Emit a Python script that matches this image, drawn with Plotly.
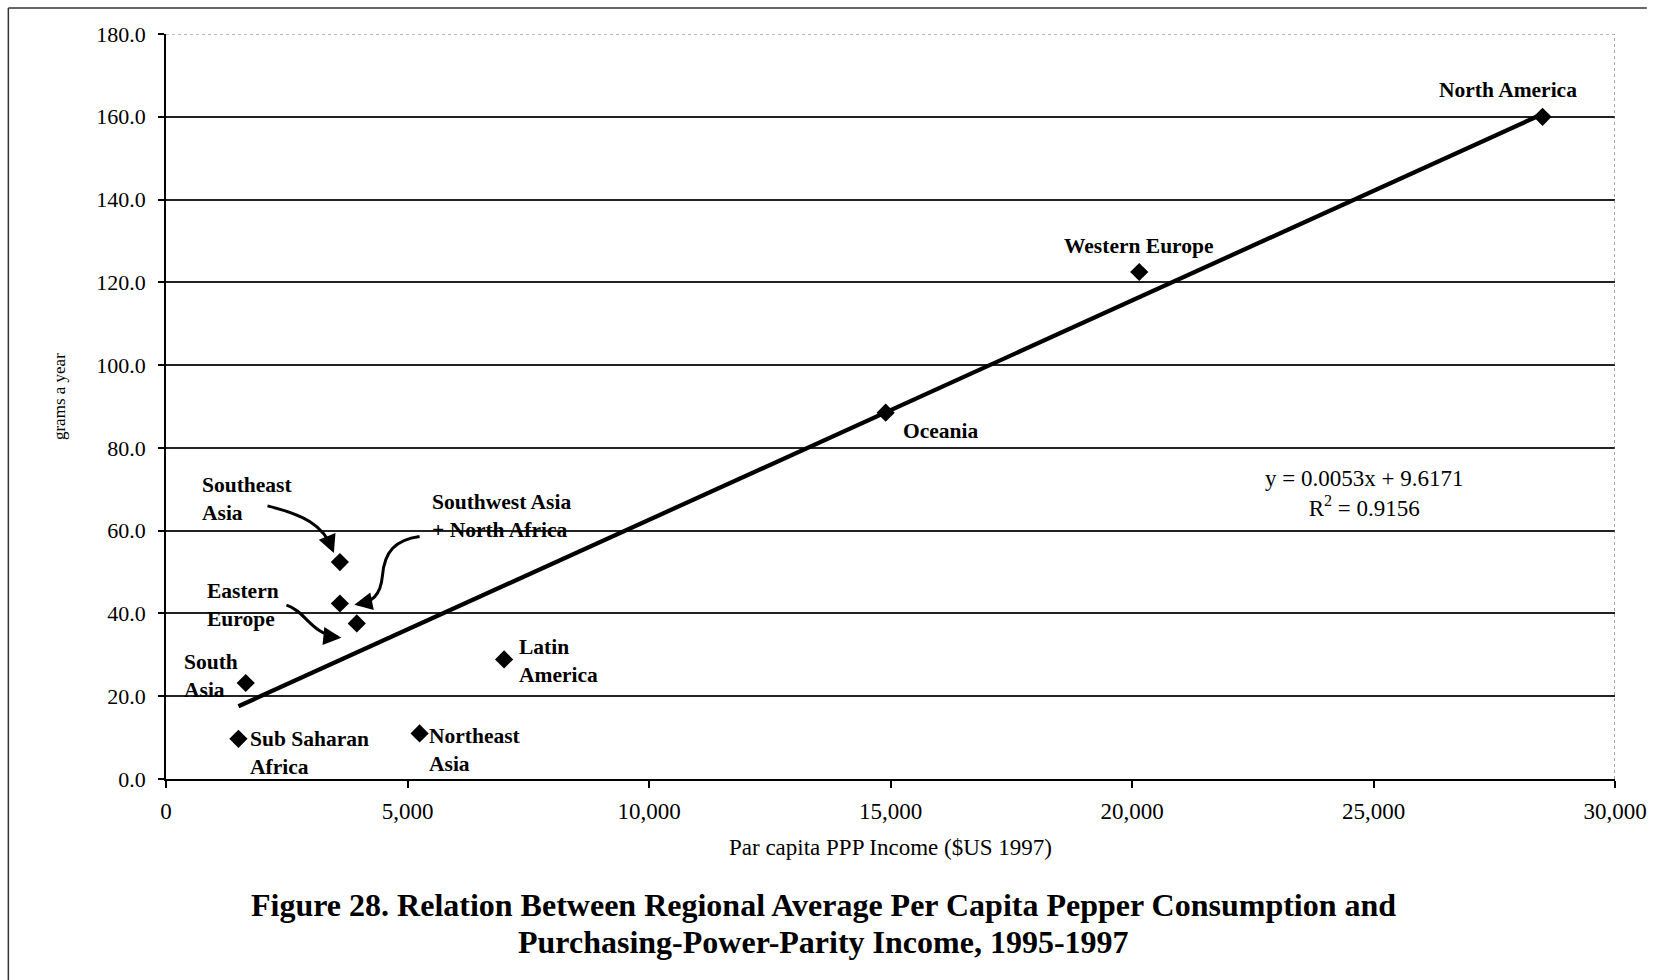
import plotly.graph_objects as go

# Regional averages, 1995-1997
regions = [
    "North America", "Western Europe", "Oceania", "Southeast Asia",
    "Southwest Asia + North Africa", "Eastern Europe", "South Asia",
    "Sub Saharan Africa", "Northeast Asia", "Latin America",
]
income_ppp = [28500, 20150, 14900, 3600, 3600, 3950, 1650, 1500, 5250, 7000]
pepper_grams = [160.0, 122.5, 88.5, 52.4, 42.4, 37.6, 23.2, 9.7, 11.0, 28.9]

# Linear fit reported on the chart
slope = 0.0053
intercept = 9.6171
r_squared = 0.9156

x_ticks = [0, 5000, 10000, 15000, 20000, 25000, 30000]
y_ticks = [0, 20, 40, 60, 80, 100, 120, 140, 160, 180]

SERIF = "Liberation Serif"
LABEL_FONT = dict(family=SERIF, size=21.5, color="black", weight="bold")
TEXT_FONT = dict(family=SERIF, size=23, color="black")

fig = go.Figure()

# trend line across the observed income range
x_fit = [min(income_ppp), max(income_ppp)]
y_fit = [slope * v + intercept for v in x_fit]
fig.add_trace(go.Scatter(
    x=x_fit, y=y_fit, mode="lines",
    line=dict(color="black", width=4.3), hoverinfo="skip",
))

fig.add_trace(go.Scatter(
    x=income_ppp, y=pepper_grams, mode="markers", text=regions,
    marker=dict(symbol="diamond", size=14, color="black"),
))

# region labels: (text, pixel offset from point, horizontal anchor)
label_style = {
    "North America": ("North America", -35, 27, "center"),
    "Western Europe": ("Western Europe", 0, 26, "center"),
    "Oceania": ("Oceania", 15, -18, "left"),
    "Southeast Asia": ("Southeast<br>Asia", -140, 63, "left"),
    "Southwest Asia + North Africa": ("Southwest Asia<br>+ North Africa", 90, 88, "left"),
    "Eastern Europe": ("Eastern<br>Europe", -152, 18, "left"),
    "South Asia": ("South<br>Asia", -64, 7, "left"),
    "Sub Saharan Africa": ("Sub Saharan<br>Africa", 10, -14, "left"),
    "Northeast Asia": ("Northeast<br>Asia", 7, -17, "left"),
    "Latin America": ("Latin<br>America", 13, -2, "left"),
}
for name, xv, yv in zip(regions, income_ppp, pepper_grams):
    text, dx, dy, anchor = label_style[name]
    fig.add_annotation(
        x=xv, y=yv, text=text, showarrow=False, xanchor=anchor, yanchor="middle",
        xshift=dx, yshift=dy, align="left", font=LABEL_FONT,
    )

# curved pointer arrows for the crowded cluster
arrow_paths = [
    ("M 2101,66 C 2850,63.8 3250,61.5 3455,55.4", (3475, 54.6), (-4, -10)),
    ("M 5250,58.6 C 4750,57.8 4520,55 4480,49 C 4440,44 4250,42.8 3960,42.2", (3900, 42.1), (10, -2)),
    ("M 2494,42 C 2900,40.5 3000,35 3560,34.3", (3630, 34.1), (-10, -1)),
]
for path, tip, tail in arrow_paths:
    fig.add_shape(type="path", path=path, xref="x", yref="y",
                  line=dict(color="black", width=3))
    fig.add_annotation(x=tip[0], y=tip[1], ax=tail[0], ay=tail[1], text="",
                       showarrow=True, arrowhead=2, arrowsize=1.2, arrowwidth=3,
                       arrowcolor="black", standoff=0)

# regression equation
fig.add_annotation(
    x=24800, y=69, text=f"y = {slope}x + {intercept}<br>R<sup>2</sup> = {r_squared}",
    showarrow=False, xanchor="center", yanchor="middle", align="center", font=TEXT_FONT,
)

# top gridline and right edge are faint dotted in the original frame
fig.add_shape(type="line", xref="x", yref="y", x0=0, x1=30000, y0=180, y1=180,
              line=dict(color="white", width=3))
fig.add_shape(type="line", xref="x", yref="y", x0=0, x1=30000, y0=180, y1=180,
              line=dict(color="#777", width=1, dash="dot"))
fig.add_shape(type="line", xref="x", yref="y", x0=30000, x1=30000, y0=0, y1=180,
              line=dict(color="#666", width=1.2, dash="dot"))

# page frame
fig.add_shape(type="line", xref="paper", yref="paper", x0=-0.1088, x1=-0.1088,
              y0=1.035, y1=-0.27, line=dict(color="#333", width=1.5))
fig.add_shape(type="line", xref="paper", yref="paper", x0=-0.1088, x1=1.022,
              y0=1.035, y1=1.035, line=dict(color="#333", width=1.5))

# vertical axis caption
fig.add_annotation(
    xref="paper", yref="paper", x=-0.073, y=0.513, text="grams a year",
    textangle=-90, showarrow=False, xanchor="center", yanchor="middle",
    font=dict(family=SERIF, size=17, color="black"),
)

# figure caption, two lines
caption_lines = [
    "Figure 28. Relation Between Regional Average Per Capita Pepper Consumption and",
    "Purchasing-Power-Parity Income, 1995-1997",
]
for line_text, ypos in zip(caption_lines, [-0.1686, -0.2183]):
    fig.add_annotation(
        xref="paper", yref="paper", x=0.4539, y=ypos, xanchor="center", yanchor="middle",
        text=line_text, showarrow=False,
        font=dict(family=SERIF, size=32, color="black", weight="bold"),
    )

fig.update_layout(
    width=1659, height=980,
    margin=dict(l=166, r=38, t=34, b=201),
    paper_bgcolor="white", plot_bgcolor="white",
    showlegend=False,
    xaxis=dict(
        range=[0, 30000], tickvals=x_ticks, tickformat=",d",
        showgrid=False, zeroline=False, showline=True, linecolor="black", linewidth=1.5,
        ticks="outside", ticklen=7, tickcolor="black", tickwidth=1.5,
        ticklabelstandoff=4,
        tickfont=dict(family=SERIF, size=23, color="black"),
        title=dict(text="Par capita PPP Income ($US 1997)", standoff=16,
                   font=dict(family=SERIF, size=23, color="black")),
    ),
    yaxis=dict(
        range=[0, 180], tickvals=y_ticks, tickformat=".1f",
        showgrid=True, gridcolor="#222", gridwidth=1.5,
        zeroline=False, showline=True, linecolor="black", linewidth=1.5,
        ticks="outside", ticklen=6, tickcolor="black", tickwidth=1.5,
        ticklabelstandoff=8,
        tickfont=dict(family=SERIF, size=22, color="black"),
    ),
)

fig.write_html("out.html")
